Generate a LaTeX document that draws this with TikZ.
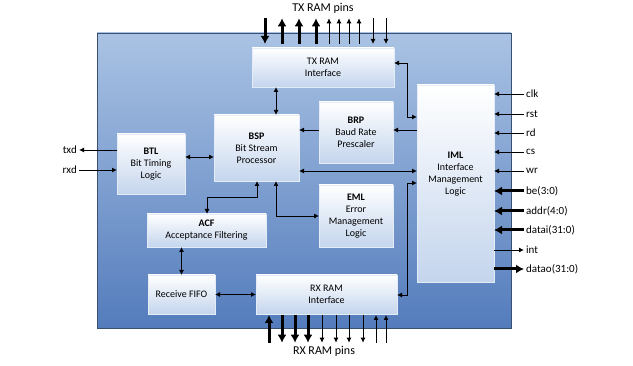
\documentclass[tikz,border=0pt]{standalone}
\usepackage{fontspec}
\setmainfont{Carlito}
\usetikzlibrary{arrows.meta, positioning, shadows}

\definecolor{bgtop}{RGB}{170,195,228}
\definecolor{bgbot}{RGB}{84,124,188}
\definecolor{boxbot}{RGB}{196,213,237}
\definecolor{frame}{RGB}{58,80,112}

\begin{document}
\begin{tikzpicture}[
  x=1pt, y=-1pt,
  box/.style={draw=white!55!boxbot, top color=white, bottom color=boxbot, outer sep=0pt, inner sep=2pt, align=center,
    font=\fontsize{10}{12}\selectfont, drop shadow={shadow xshift=1.2pt, shadow yshift=-1.2pt, opacity=0.35, fill=frame}},
  arr/.style={-{Latex[length=5pt,width=5pt]}, line width=0.9pt},
  dblarr/.style={{Latex[length=5pt,width=5pt]}-{Latex[length=5pt,width=5pt]}, line width=0.9pt},
  bus/.style={-{Latex[length=8pt,width=9pt]}, line width=3pt},
  sig/.style={font=\fontsize{11}{12}\selectfont, inner sep=2pt},
  pins/.style={font=\fontsize{12}{13}\selectfont, inner sep=2pt}
]
\useasboundingbox (0,0) rectangle (633,366);

% core block
\node[draw=frame, line width=0.8pt, top color=bgtop, bottom color=bgbot, minimum width=414pt, minimum height=295pt, outer sep=0pt] (core) at (304,180.5) {};

% blocks
\node[box, minimum width=142pt, minimum height=39pt] (txram) at (323,67.5) {TX RAM\\Interface};
\node[box, minimum width=85pt, minimum height=66pt] (bsp) at (256.5,148) {\textbf{BSP}\\Bit Stream\\Processor};
\node[box, minimum width=74pt, minimum height=61pt] (brp) at (356,132.5) {\textbf{BRP}\\Baud Rate\\Prescaler};
\node[box, minimum width=74pt, minimum height=62pt] (eml) at (356,216) {\textbf{EML}\\Error\\Management\\Logic};
\node[box, minimum width=77pt, minimum height=197pt] (iml) at (455.5,183.5) {\textbf{IML}\\Interface\\Management\\Logic\\[8pt]};
\node[box, minimum width=68pt, minimum height=60pt] (btl) at (151,164) {\textbf{BTL}\\Bit Timing\\Logic};
\node[box, minimum width=119pt, minimum height=33pt] (acf) at (206.5,230.5) {\textbf{ACF}\\Acceptance Filtering};
\node[box, minimum width=67pt, minimum height=39pt] (fifo) at (181.5,294.5) {Receive FIFO};
\node[box, minimum width=141pt, minimum height=39pt] (rxram) at (326.5,294.5) {RX RAM\\Interface};

% internal links
\draw[dblarr] (btl.east |- 0,157) -- (bsp.west |- 0,157);
\draw[dblarr] (bsp.south -| 257,0) |- (207,197) -- (acf.north -| 207,0);
\draw[dblarr] (bsp.south -| 276,0) |- (eml.west);
\draw[dblarr] (fifo.north |- acf.south) -- (fifo.north);
\draw[dblarr] (fifo) -- (rxram);
\draw[dblarr] (txram.south -| 276,0) -- (bsp.north -| 276,0);
\draw[arr] (brp.west |- 0,130) -- (bsp.east |- 0,130);
\draw[arr] (iml.west |- 0,130) -- (brp.east |- 0,130);
\draw[dblarr] (bsp.east |- 0,171) -- (iml.west |- 0,171);
\draw[dblarr] (txram.east |- 0,63) -| (407,117) -- (iml.west |- 0,117);
\draw[dblarr] (iml.west |- 0,183) -| (407,295) -- (rxram.east |- 0,295);

% line side
\node[sig, anchor=east] (txd) at (79,150) {txd};
\node[sig, anchor=east] (rxd) at (79,170) {rxd};
\draw[arr] (txd.east -| btl.west) -- (txd.east);
\draw[arr] (rxd.east) -- (rxd.east -| btl.west);

% host side
\foreach \nm/\yy in {clk/94, rst/114, rd/133, cs/152, wr/171}{
  \node[sig, anchor=west] (\nm) at (524,\yy) {\nm};
  \draw[arr] (\nm.west) -- (\nm.west -| iml.east);
}
\foreach \nm/\txt/\yy in {be/be(3:0)/191, addr/addr(4:0)/211, datai/datai(31:0)/230}{
  \node[sig, anchor=west] (\nm) at (524,\yy) {\txt};
  \draw[bus] (\nm.west) -- (\nm.west -| iml.east);
}
\node[sig, anchor=west] (int) at (524,250) {int};
\node[sig, anchor=west] (datao) at (524,269) {datao(31:0)};
\draw[arr] (int.west -| iml.east) -- (int.west);
\draw[bus] (datao.west -| iml.east) -- (datao.west);

% TX RAM pins
\node[pins] (txpins) at (323,8) {TX RAM pins};
\draw[bus, shorten <=3pt, shorten >=4pt] (txpins.south -| 265,0) -- (txram.north -| 265,0);
\foreach \x in {282,299,316}
  \draw[bus, shorten <=4pt, shorten >=3pt] (txram.north -| \x,0) -- (txpins.south -| \x,0);
\foreach \x in {329,339,349,359}
  \draw[arr, shorten <=4pt, shorten >=3pt] (txram.north -| \x,0) -- (txpins.south -| \x,0);
\foreach \x in {373,386}
  \draw[arr, shorten <=3pt, shorten >=4pt] (txpins.south -| \x,0) -- (txram.north -| \x,0);

% RX RAM pins
\node[pins] (rxpins) at (324,351) {RX RAM pins};
\draw[bus, shorten <=1pt, shorten >=1pt] (rxpins.north -| 269,0) -- (rxram.south -| 269,0);
\foreach \x in {282,295,308}
  \draw[bus, shorten <=1pt, shorten >=1pt] (rxram.south -| \x,0) -- (rxpins.north -| \x,0);
\foreach \x in {322,336,349,363}
  \draw[arr, shorten <=1pt, shorten >=1pt] (rxram.south -| \x,0) -- (rxpins.north -| \x,0);
\foreach \x in {376,386}
  \draw[arr, shorten <=1pt, shorten >=1pt] (rxpins.north -| \x,0) -- (rxram.south -| \x,0);
\end{tikzpicture}
\end{document}
